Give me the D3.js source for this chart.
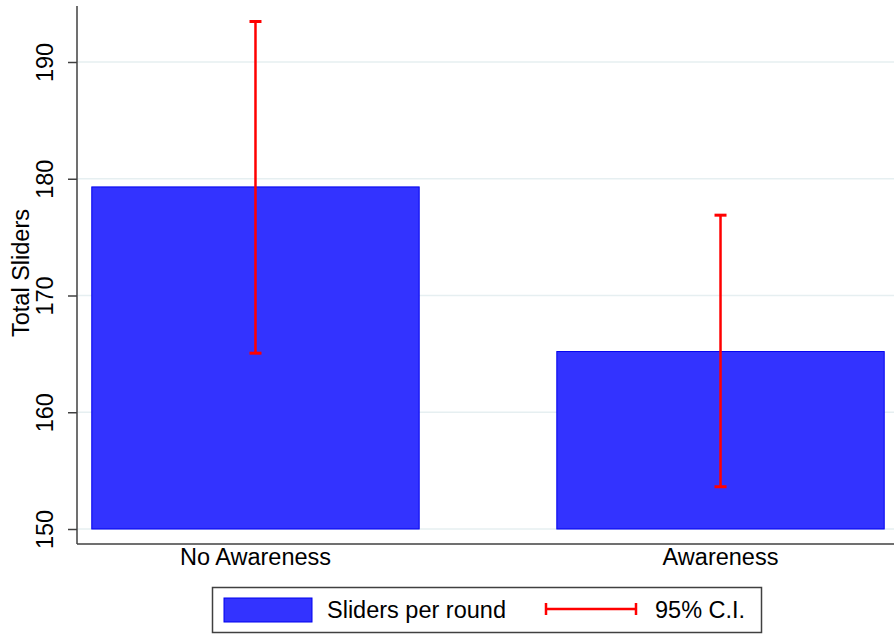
<!DOCTYPE html>
<html>
<head>
<meta charset="utf-8">
<script src="https://cdn.jsdelivr.net/npm/d3@7"></script>
<style>
  html, body { margin: 0; padding: 0; background: #fff; }
  svg { display: block; font-family: "Liberation Sans", Arial, sans-serif; }
</style>
</head>
<body>
<svg id="chart" width="894" height="635"></svg>
<script>
// Mean sliders per round by treatment, with 95% confidence intervals
const categories = ["No Awareness", "Awareness"];
const means = [179.3, 165.2];
const ciLow = [165.06, 153.62];
const ciHigh = [193.47, 176.88];
const yTicks = [150, 160, 170, 180, 190];
const legendLabels = ["Sliders per round", "95% C.I."];

const svg = d3.select("#chart");
const W = 894, H = 635;
const FS = "23.5px";

const plot = { left: 77, right: 896, top: 6, bottom: 544 };

const y = d3.scaleLinear().domain([150, 190]).range([529, 62]);

const x = d3.scaleBand()
  .domain(categories)
  .range([79, 897])
  .paddingInner(0.296)
  .paddingOuter(0.0275);

// gridlines
svg.append("g")
  .selectAll("line")
  .data(yTicks)
  .join("line")
  .attr("x1", plot.left + 1)
  .attr("x2", W)
  .attr("y1", d => y(d))
  .attr("y2", d => y(d))
  .attr("stroke", "#e6eff1")
  .attr("stroke-width", 1.5);

// bars
svg.append("g")
  .selectAll("rect")
  .data(categories)
  .join("rect")
  .attr("x", d => x(d))
  .attr("width", x.bandwidth())
  .attr("y", (d, i) => y(means[i]))
  .attr("height", (d, i) => y(150) - y(means[i]))
  .attr("fill", "#3333ff")
  .attr("stroke", "#0000ee")
  .attr("stroke-width", 1);

// confidence intervals
const ci = svg.append("g").attr("stroke", "#ff0000").attr("stroke-width", 2.5);
categories.forEach((c, i) => {
  const cx = x(c) + x.bandwidth() / 2;
  ci.append("line").attr("x1", cx).attr("x2", cx)
    .attr("y1", y(ciHigh[i])).attr("y2", y(ciLow[i]));
  [ciHigh[i], ciLow[i]].forEach(v => {
    ci.append("line").attr("x1", cx - 6).attr("x2", cx + 6)
      .attr("y1", y(v)).attr("y2", y(v)).attr("stroke-width", 3);
  });
});

// y axis
const yAxis = d3.axisLeft(y).tickValues(yTicks).tickSize(9).tickFormat(d3.format("d"));
const gy = svg.append("g").attr("transform", `translate(${plot.left},0)`).call(yAxis);
gy.select(".domain").remove();
gy.selectAll(".tick line").attr("stroke", "#404040").attr("stroke-width", 1.5);
gy.selectAll(".tick text")
  .attr("x", 0).attr("y", 0).attr("dy", null)
  .attr("text-anchor", "middle")
  .attr("transform", "translate(-32,0) rotate(-90)")
  .attr("dominant-baseline", "central")
  .style("font-size", FS)
  .style("font-family", "'Liberation Sans', Arial, sans-serif")
  .attr("fill", "#000");

svg.append("line")
  .attr("x1", plot.left).attr("x2", plot.left)
  .attr("y1", plot.top).attr("y2", plot.bottom)
  .attr("stroke", "#404040").attr("stroke-width", 1.5);

// x axis
svg.append("line")
  .attr("x1", plot.left).attr("x2", W)
  .attr("y1", plot.bottom).attr("y2", plot.bottom)
  .attr("stroke", "#404040").attr("stroke-width", 1.5);

svg.append("g")
  .selectAll("text")
  .data(categories)
  .join("text")
  .attr("x", d => x(d) + x.bandwidth() / 2)
  .attr("y", 565)
  .attr("text-anchor", "middle")
  .style("font-size", FS)
  .text(d => d);

// y title
svg.append("text")
  .attr("transform", "translate(21,273) rotate(-90)")
  .attr("text-anchor", "middle")
  .attr("dominant-baseline", "central")
  .style("font-size", FS)
  .text("Total Sliders");

// legend
const lg = svg.append("g");
lg.append("rect")
  .attr("x", 212.5).attr("y", 587.5).attr("width", 549).attr("height", 45)
  .attr("fill", "#fff").attr("stroke", "#404040").attr("stroke-width", 1.5);
lg.append("rect")
  .attr("x", 224).attr("y", 598).attr("width", 88).attr("height", 24)
  .attr("fill", "#3333ff").attr("stroke", "#0000ee").attr("stroke-width", 1);
lg.append("text").attr("x", 327).attr("y", 618).style("font-size", FS).text(legendLabels[0]);
const lr = lg.append("g").attr("stroke", "#ff0000").attr("stroke-width", 2.5);
lr.append("line").attr("x1", 546).attr("x2", 636).attr("y1", 609).attr("y2", 609);
lr.append("line").attr("x1", 546).attr("x2", 546).attr("y1", 603).attr("y2", 615);
lr.append("line").attr("x1", 636).attr("x2", 636).attr("y1", 603).attr("y2", 615);
lg.append("text").attr("x", 655).attr("y", 618).style("font-size", FS).text(legendLabels[1]);
</script>
</body>
</html>
